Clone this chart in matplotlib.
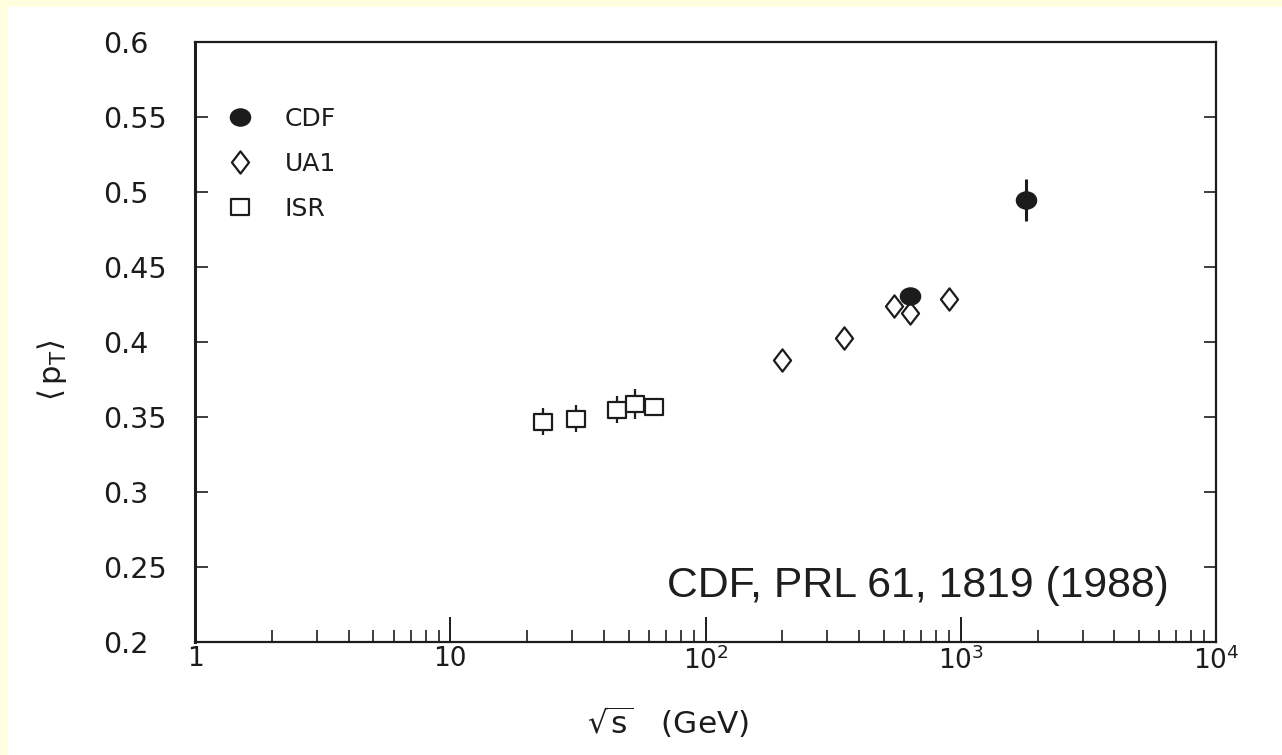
import matplotlib
matplotlib.use("Agg")
import matplotlib.pyplot as plt
from matplotlib.path import Path
from matplotlib.transforms import Affine2D
from matplotlib.ticker import LogLocator, FixedLocator, NullFormatter, FuncFormatter
import numpy as np

# Mean transverse momentum vs centre-of-mass energy
cdf_sqrt_s = [630, 1800]
cdf_pt = [0.431, 0.495]
cdf_err = [0.003, 0.014]

ua1_sqrt_s = [200, 350, 546, 630, 900]
ua1_pt = [0.388, 0.403, 0.424, 0.4195, 0.429]

isr_sqrt_s = [23, 31, 45, 53, 63]
isr_pt = [0.347, 0.349, 0.355, 0.359, 0.357]
isr_err = [0.009, 0.009, 0.009, 0.010, 0.005]

y_ticks = [0.2, 0.25, 0.3, 0.35, 0.4, 0.45, 0.5, 0.55, 0.6]
x_ticks = [1, 10, 100, 1000, 10000]
x_ticklabels = ["1", "10", r"$10^{2}$", r"$10^{3}$", r"$10^{4}$"]

INK = "#1c1c1c"

# custom marker shapes
ellipse = Path.unit_circle().transformed(Affine2D().scale(1.0, 0.85))
diamond = Path([(0, 1), (0.77, 0), (0, -1), (-0.77, 0), (0, 1)],
               [Path.MOVETO, Path.LINETO, Path.LINETO, Path.LINETO, Path.CLOSEPOLY])
box = Path([(-1, -0.88), (1, -0.88), (1, 0.88), (-1, 0.88), (-1, -0.88)],
           [Path.MOVETO, Path.LINETO, Path.LINETO, Path.LINETO, Path.CLOSEPOLY])

fig = plt.figure(figsize=(12.82, 7.55), dpi=100)
fig.patch.set_facecolor("white")
# pale frame strips along the top and left edges
fig.patches.append(plt.Rectangle((0, 1 - 7 / 755), 1, 7 / 755, transform=fig.transFigure,
                                 facecolor="#ffffe0", edgecolor="none", zorder=0))
fig.patches.append(plt.Rectangle((0, 0), 8 / 1282, 1, transform=fig.transFigure,
                                 facecolor="#ffffe0", edgecolor="none", zorder=0))

ax = fig.add_axes([195 / 1282, 1 - 642 / 755, 1021 / 1282, 600 / 755])
ax.set_xscale("log")
ax.set_xlim(1, 1e4)
ax.set_ylim(0.2, 0.6)

ax.errorbar(isr_sqrt_s, isr_pt, yerr=isr_err, fmt="none", ecolor=INK, elinewidth=1.6, capsize=0, zorder=2)
h_isr, = ax.plot(isr_sqrt_s, isr_pt, linestyle="none", marker=box, markersize=13.5,
                 markerfacecolor="white", markeredgecolor=INK, markeredgewidth=1.6, zorder=3)
h_ua1, = ax.plot(ua1_sqrt_s, ua1_pt, linestyle="none", marker=diamond, markersize=16,
                 markerfacecolor="white", markeredgecolor=INK, markeredgewidth=1.6, zorder=3)
ax.errorbar(cdf_sqrt_s, cdf_pt, yerr=cdf_err, fmt="none", ecolor=INK, elinewidth=2.2, capsize=0, zorder=4)
h_cdf, = ax.plot(cdf_sqrt_s, cdf_pt, linestyle="none", marker=ellipse, markersize=14.5,
                 markerfacecolor=INK, markeredgecolor=INK, zorder=5)

leg = ax.legend([h_cdf, h_ua1, h_isr], ["CDF", "UA1", "ISR"], loc="upper left",
                bbox_to_anchor=(0.0198, 0.909), frameon=False, handlelength=1.2,
                handletextpad=1.18, labelspacing=0.85, borderaxespad=0,
                prop={"size": 18})
for t in leg.get_texts():
    t.set_color(INK)

# axes styling
for s in ax.spines.values():
    s.set_color(INK)
    s.set_linewidth(1.6)
ax.spines["left"].set_linewidth(2.2)

ax.xaxis.set_major_locator(FixedLocator(x_ticks))
ax.xaxis.set_major_formatter(FuncFormatter(lambda v, p: x_ticklabels[x_ticks.index(int(round(v)))]
                                           if int(round(v)) in x_ticks else ""))
ax.xaxis.set_minor_locator(LogLocator(base=10, subs=np.arange(2, 10)))
ax.xaxis.set_minor_formatter(NullFormatter())
ax.yaxis.set_major_locator(FixedLocator(y_ticks))
ax.yaxis.set_major_formatter(FuncFormatter(lambda v, p: f"{v:g}"))

ax.tick_params(axis="x", which="major", direction="in", length=18, width=1.4, color=INK,
               labelsize=19, labelcolor=INK, pad=3, top=False)
ax.tick_params(axis="x", which="minor", direction="in", length=9, width=1.2, color=INK, top=False)
ax.tick_params(axis="y", which="major", direction="in", length=9, width=1.2, color=INK,
               labelsize=20.5, labelcolor=INK, pad=66, right=True)
for lbl in ax.get_yticklabels():
    lbl.set_horizontalalignment("left")

ax.set_xlabel(r"$\sqrt{\mathrm{s}}$   (GeV)", fontsize=22.5, color=INK)
ax.xaxis.set_label_coords((668 - 195) / 1021, (642 - 722) / 600)
ax.xaxis.label.set_verticalalignment("center")
ax.set_ylabel(r"$\langle\,\mathrm{p}_{\mathrm{T}}\rangle$", fontsize=22, color=INK)
ax.yaxis.set_label_coords((52 - 195) / 1021, (642 - 370) / 600)
ax.yaxis.label.set_verticalalignment("center")

ax.text(0.462, 0.075, "CDF, PRL 61, 1819 (1988)", transform=ax.transAxes,
        fontsize=30.8, family="Liberation Sans", color="#1e1e1e", ha="left", va="baseline")

fig.savefig("out.png", dpi=100, facecolor=fig.get_facecolor())
